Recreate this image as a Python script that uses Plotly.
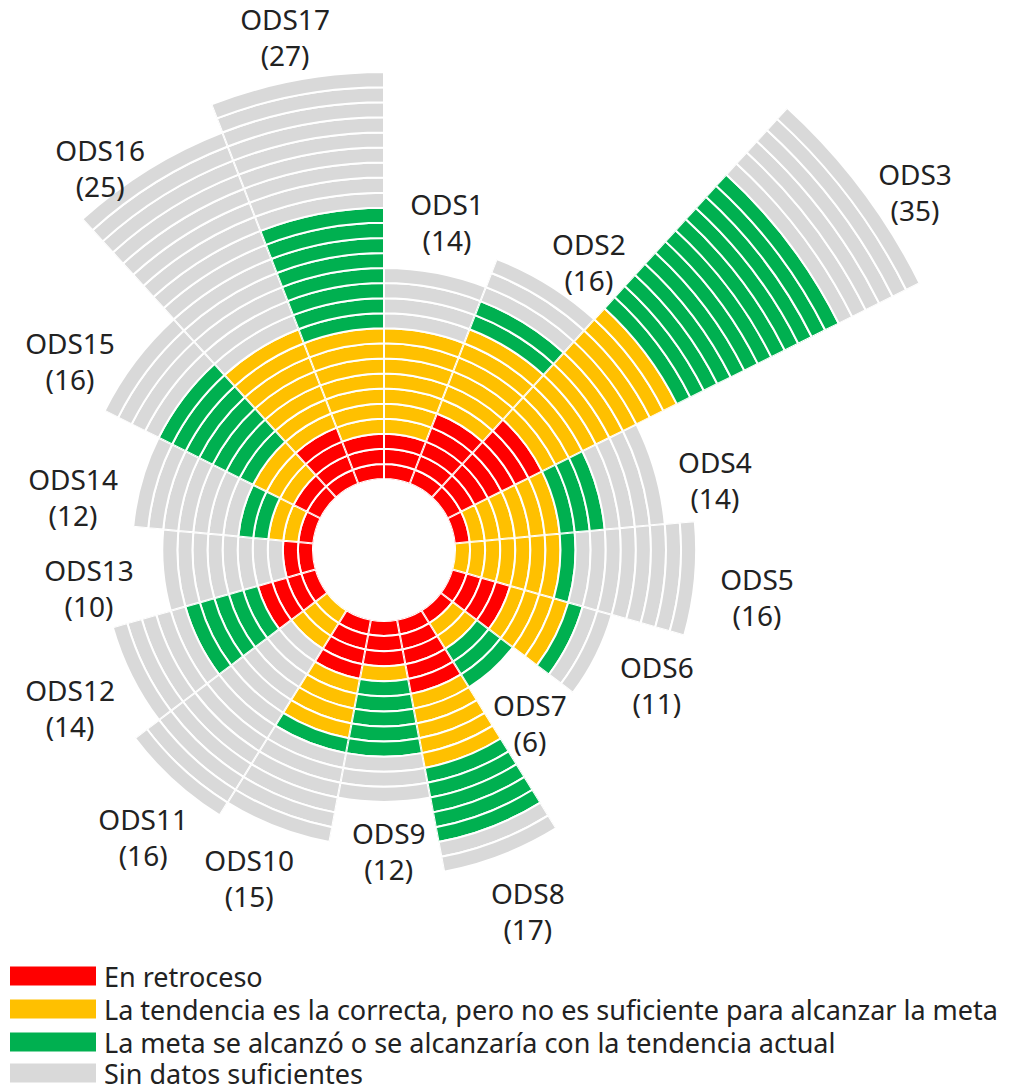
import math
import plotly.graph_objects as go

# ---------------- data ----------------
ods_names = [f"ODS{i}" for i in range(1, 18)]
retroceso = [3, 5, 7, 1, 0, 4, 1, 5, 3, 4, 0, 4, 2, 1, 2, 4, 3]
tendencia = [7, 6, 10, 6, 7, 4, 2, 5, 1, 4, 3, 0, 0, 2, 3, 7, 7]
meta      = [0, 2, 12, 3, 1, 1, 3, 5, 5, 1, 0, 5, 0, 2, 7, 0, 8]
sin_datos = [4, 3, 6, 4, 8, 2, 0, 2, 3, 6, 13, 5, 8, 7, 4, 14, 9]

categories = ["En retroceso",
              "La tendencia es la correcta, pero no es suficiente para alcanzar la meta",
              "La meta se alcanzó o se alcanzaría con la tendencia actual",
              "Sin datos suficientes"]
series = [retroceso, tendencia, meta, sin_datos]
colors = ["#FF0000", "#FFC000", "#00B050", "#D9D9D9"]

totals = [sum(v) for v in zip(*series)]

# ---------------- geometry / style ----------------
PAGE_OFF = 8                # default body margin of the html page
W, H = 1010 - PAGE_OFF, 1089 - PAGE_OFF
CX, CY = 384 - PAGE_OFF, 550 - PAGE_OFF   # common centre (figure px)
HOLE_PX = 71               # radius of the empty centre (px)
UNIT_PX = 15.07            # thickness of one ring (px)
n = len(ods_names)
step = 360 / n

# label placement: extra ring units beyond the bar end, and angle (clockwise from north)
lab_off = [3.19, 2.53, 2.64, 3.68, 4.27, 4.61, 4.51, 4.33, 3.53, 4.07, 4.36, 4.73, 5.06, 4.18, 3.47, 1.66, 2.70]
lab_ang = [11.0, 35.8, 56.3, 78.7, 97.8, 117.0, 140.5, 158.5, 179.1, 202.1, 219.6, 242.7, 261.9, 279.0, 300.5, 323.1, 349.0]

FONT = "Noto Sans"
TXT = "#222222"
FS_LAB = 28
FS_LEG = 27


def sector_bbox(s0, s1):
    """Same bounding box rule as plotly.js uses for a polar sector."""
    arc = s1 - s0
    a0 = s0 % 360
    a1 = a0 + arc
    ax0, ay0 = math.cos(math.radians(a0)), math.sin(math.radians(a0))
    ax1, ay1 = math.cos(math.radians(a1)), math.sin(math.radians(a1))
    if (a0 <= 90 and a1 >= 90) or (a0 > 90 and a1 >= 450):
        y1 = 1
    elif ay0 <= 0 and ay1 <= 0:
        y1 = 0
    else:
        y1 = max(ay0, ay1)
    if (a0 <= 180 and a1 >= 180) or (a0 > 180 and a1 >= 540):
        x0 = -1
    elif ax0 >= 0 and ax1 >= 0:
        x0 = 0
    else:
        x0 = min(ax0, ax1)
    if (a0 <= 270 and a1 >= 270) or (a0 > 270 and a1 >= 630):
        y0 = -1
    elif ay0 >= 0 and ay1 >= 0:
        y0 = 0
    else:
        y0 = min(ay0, ay1)
    if a1 >= 360:
        x1 = 1
    elif ax0 <= 0 and ax1 <= 0:
        x1 = 0
    else:
        x1 = max(ax0, ax1)
    return x0, y0, x1, y1


fig = go.Figure()
layout_polars = {}

for i in range(n):
    key = "polar" if i == 0 else f"polar{i + 1}"
    theta_c = (i + 0.5) * step

    # one bar per ring, stacked outward in category order
    th, bs, rr, cols = [], [], [], []
    start = 0
    for vals, col in zip(series, colors):
        for j in range(vals[i]):
            th.append(theta_c)
            bs.append(start + j)
            rr.append(1)
            cols.append(col)
        start += vals[i]

    fig.add_trace(go.Barpolar(
        subplot=key, theta=th, r=rr, base=bs, width=step,
        marker=dict(color=cols, line=dict(color="white", width=2)),
        showlegend=False, hoverinfo="skip"))

    r_lab = totals[i] + lab_off[i]
    fig.add_trace(go.Scatterpolar(
        subplot=key, r=[r_lab], theta=[lab_ang[i]], mode="text",
        text=[f"{ods_names[i]}<br>({totals[i]})"],
        textfont=dict(family=FONT, size=FS_LAB, color=TXT),
        textposition="middle center", cliponaxis=False,
        showlegend=False, hoverinfo="skip"))

    rmax = max(totals[i], r_lab) + 0.3
    R = HOLE_PX + UNIT_PX * rmax
    s0 = 90 - (i + 1) * step
    s1 = 90 - i * step
    x0, y0, x1, y1 = sector_bbox(s0, s1)
    layout_polars[key] = dict(
        domain=dict(x=[(CX + R * x0) / W, (CX + R * x1) / W],
                    y=[(H - (CY - R * y0)) / H, (H - (CY - R * y1)) / H]),
        sector=[s0, s1],
        hole=HOLE_PX / R,
        bgcolor="rgba(0,0,0,0)",
        radialaxis=dict(range=[0, rmax], visible=False, showgrid=False, showline=False,
                        showticklabels=False, ticks=""),
        angularaxis=dict(rotation=90, direction="clockwise", visible=False, showgrid=False,
                         showline=False, showticklabels=False, ticks=""),
    )

fig.update_layout(
    width=W, height=H,
    margin=dict(l=0, r=0, t=0, b=0),
    paper_bgcolor="white",
    plot_bgcolor="white",
    barmode="overlay",
    showlegend=False,
    **layout_polars,
)

# legend drawn as boxes + text (screen rows 976, 1009, 1042, 1074)
leg_y = [976 - PAGE_OFF, 1009 - PAGE_OFF, 1042 - PAGE_OFF, 1073 - PAGE_OFF]
for name, col, yc in zip(categories, colors, leg_y):
    fig.add_shape(type="rect", xref="paper", yref="paper",
                  x0=(10 - PAGE_OFF) / W, x1=(96 - PAGE_OFF) / W,
                  y0=1 - (yc - 9.5) / H, y1=1 - (yc + 9.5) / H,
                  fillcolor=col, line=dict(width=0))
    fig.add_annotation(xref="paper", yref="paper", x=(102 - PAGE_OFF) / W, y=1 - yc / H,
                       xanchor="left", yanchor="middle", showarrow=False,
                       text=name, font=dict(family=FONT, size=FS_LEG, color=TXT))

fig.write_html("out.html")
